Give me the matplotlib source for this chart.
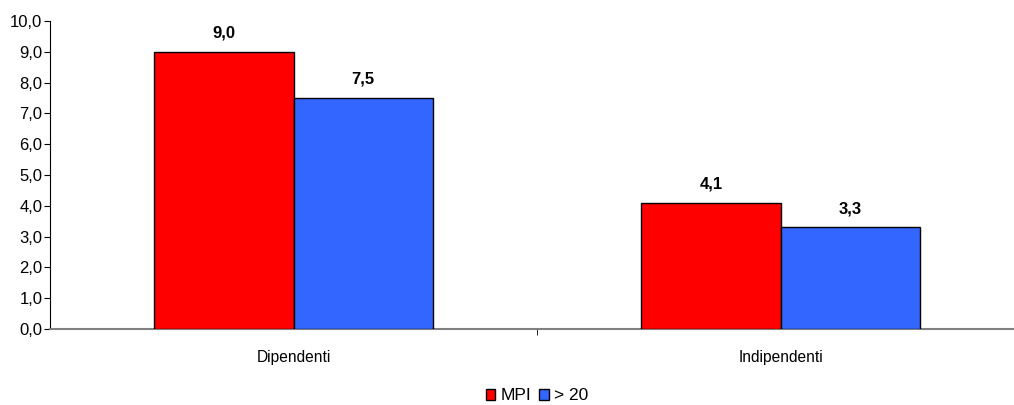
import matplotlib
matplotlib.use("Agg")
import matplotlib.pyplot as plt
import numpy as np
from matplotlib.patches import Patch

categories = ["Dipendenti", "Indipendenti"]
series_names = ["MPI", "> 20"]
mpi = [9.0, 4.1]
over20 = [7.5, 3.3]
colors = ["#FF0000", "#3366FF"]
yticks = np.arange(0, 10.01, 1.0)

regular = ["Liberation Sans", "DejaVu Sans"]

fig = plt.figure(figsize=(10.14, 4.05), dpi=100)
ax = fig.add_axes([50/1014, (405-329)/405, 974/1014, 308/405])

x = np.arange(len(categories))
w = 0.286
for i, (vals, c, name) in enumerate(zip([mpi, over20], colors, series_names)):
    pos = x + (i - 0.5) * w
    ax.bar(pos, vals, width=w, color=c, edgecolor="black", linewidth=1.0, label=name, zorder=3)
    for p, v in zip(pos, vals):
        ax.annotate(f"{v:.1f}".replace(".", ","), (p, v), xytext=(0, 8), textcoords="offset points",
                    ha="center", va="bottom", fontsize=12, fontweight="bold", family=regular)

ax.set_xlim(-0.5, 1.5)
ax.set_ylim(0, 10)
ax.set_yticks(yticks)
ax.set_yticklabels([f"{t:.1f}".replace(".", ",") for t in yticks], family=regular, fontsize=12)
ax.set_xticks(x)
ax.set_xticklabels(categories, family=regular, fontsize=11.2)
ax.tick_params(axis="x", length=0, pad=15)
ax.set_xticks([0.5], minor=True)
ax.tick_params(axis="x", which="minor", length=4, direction="out", color="black")
ax.tick_params(axis="y", length=4, direction="out", pad=1.5, color="black")
for s in ["top", "right"]:
    ax.spines[s].set_visible(False)
ax.spines["left"].set_color("black")
ax.spines["bottom"].set_color("#808080")
ax.spines["bottom"].set_linewidth(1.5)

handles = [Patch(facecolor=c, edgecolor="black", label=n) for c, n in zip(colors, series_names)]
fig.legend(handles=handles, loc="center", bbox_to_anchor=(537/1014, 1 - 396/405), ncol=2,
           frameon=False, prop={"family": regular, "size": 12.5}, handlelength=0.55, handleheight=0.55,
           handletextpad=0.3, columnspacing=0.45, borderpad=0)

fig.savefig("out.png", dpi=100)
